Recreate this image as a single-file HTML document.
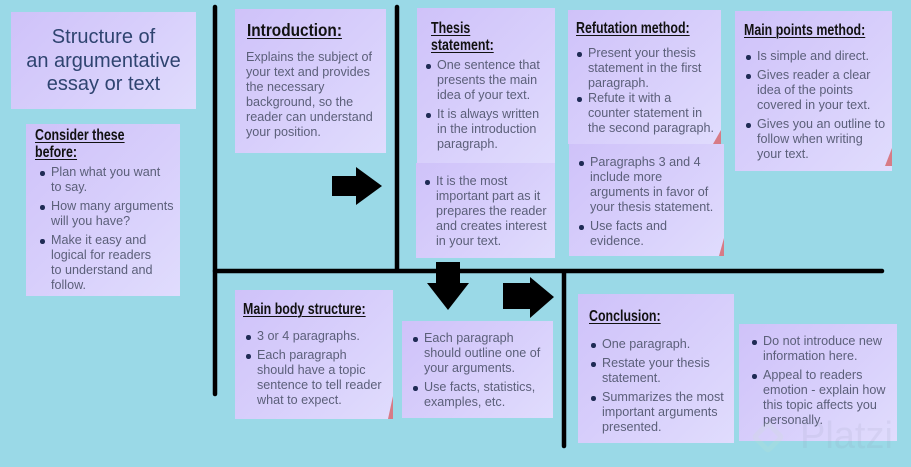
<!DOCTYPE html>
<html><head><meta charset="utf-8">
<style>
*{margin:0;padding:0;box-sizing:border-box}
html,body{width:911px;height:467px;overflow:hidden;background:#9ad9e7}
body{position:relative;font-family:"Liberation Sans",sans-serif}
.box{position:absolute;background:linear-gradient(135deg,#cfc2f9 0%,#d7cefb 50%,#e0dcfd 100%)}
.h{position:absolute;font-family:"Liberation Sans",sans-serif;font-weight:bold;color:#111;text-decoration:underline;text-decoration-thickness:1px;text-underline-offset:2px;white-space:nowrap;font-size:15.5px;line-height:17px;transform:scaleX(0.8);transform-origin:0 0}
.it{position:absolute;font-size:12.6px;line-height:15px;color:#5b5f79;white-space:nowrap}
.it.b::before{content:"";position:absolute;left:-11px;top:6px;width:4.5px;height:4.5px;border-radius:50%;background:#1f2b55}
.title{position:absolute;left:11px;top:14px;width:185px;height:97px;text-align:center;color:#2f4470;font-size:20px;line-height:23.5px;padding-top:12px}
.corner{position:absolute;width:0;height:0;border-style:solid}
</style></head><body>

<!-- boxes -->
<div class="box" style="left:11px;top:12px;width:185px;height:97px"></div>
<div class="title">Structure of<br>an argumentative<br>essay or text</div>

<div class="box" style="left:26px;top:124px;width:154px;height:172px"></div>
<div class="h" style="left:35px;top:127px">Consider these<br>before:</div>
<div class="it b" style="left:51px;top:165px">Plan what you want<br>to say.</div>
<div class="it b" style="left:51px;top:199px">How many arguments<br>will you have?</div>
<div class="it b" style="left:51px;top:233px">Make it easy and<br>logical for readers<br>to understand and<br>follow.</div>

<div class="box" style="left:235px;top:9px;width:151px;height:144px"></div>
<div class="h" style="left:247px;top:20px;font-size:17.5px;line-height:20px;transform:scaleX(0.88)">Introduction:</div>
<div class="it" style="left:246px;top:50px">Explains the subject of<br>your text and provides<br>the necessary<br>background, so the<br>reader can understand<br>your position.</div>

<div class="box" style="left:417px;top:8px;width:138px;height:155px"></div>
<div class="box" style="left:416px;top:163px;width:139px;height:95px"></div>
<div class="h" style="left:431px;top:20px">Thesis<br>statement:</div>
<div class="it b" style="left:437px;top:58px">One sentence that<br>presents the main<br>idea of your text.</div>
<div class="it b" style="left:437px;top:107px">It is always written<br>in the introduction<br>paragraph.</div>
<div class="it b" style="left:436px;top:174px">It is the most<br>important part as it<br>prepares the reader<br>and creates interest<br>in your text.</div>

<div class="box" style="left:568px;top:10px;width:153px;height:134px"></div>
<div class="corner" style="left:713px;top:130px;border-width:0 0 14px 8px;border-color:transparent transparent #d77b86 transparent"></div>
<div class="box" style="left:569px;top:144px;width:155px;height:112px"></div>
<div class="corner" style="left:719px;top:238px;border-width:0 0 18px 5px;border-color:transparent transparent #d77b86 transparent"></div>
<div class="h" style="left:576px;top:20px">Refutation method:</div>
<div class="it b" style="left:588px;top:46px">Present your thesis<br>statement in the first<br>paragraph.</div>
<div class="it b" style="left:588px;top:91px">Refute it with a<br>counter statement in<br>the second paragraph.</div>
<div class="it b" style="left:590px;top:155px">Paragraphs 3 and 4<br>include more<br>arguments in favor of<br>your thesis statement.</div>
<div class="it b" style="left:590px;top:219px">Use facts and<br>evidence.</div>

<div class="box" style="left:735px;top:11px;width:157px;height:160px"></div>
<div class="corner" style="left:885px;top:148px;border-width:0 0 18px 7px;border-color:transparent transparent #d77b86 transparent"></div>
<div class="h" style="left:744px;top:22px">Main points method:</div>
<div class="it b" style="left:757px;top:49px">Is simple and direct.</div>
<div class="it b" style="left:757px;top:68px">Gives reader a clear<br>idea of the points<br>covered in your text.</div>
<div class="it b" style="left:757px;top:117px">Gives you an outline to<br>follow when writing<br>your text.</div>

<div class="box" style="left:235px;top:290px;width:158px;height:129px"></div>
<div class="corner" style="left:388px;top:396px;border-width:0 0 23px 5px;border-color:transparent transparent #d77b86 transparent"></div>
<div class="h" style="left:243px;top:301px">Main body structure:</div>
<div class="it b" style="left:257px;top:329px">3 or 4 paragraphs.</div>
<div class="it b" style="left:257px;top:348px">Each paragraph<br>should have a topic<br>sentence to tell reader<br>what to expect.</div>

<div class="box" style="left:402px;top:321px;width:151px;height:97px"></div>
<div class="it b" style="left:424px;top:331px">Each paragraph<br>should outline one of<br>your arguments.</div>
<div class="it b" style="left:424px;top:380px">Use facts, statistics,<br>examples, etc.</div>

<div class="box" style="left:578px;top:294px;width:156px;height:149px"></div>
<div class="h" style="left:589px;top:308px">Conclusion:</div>
<div class="it b" style="left:602px;top:337px">One paragraph.</div>
<div class="it b" style="left:602px;top:356px">Restate your thesis<br>statement.</div>
<div class="it b" style="left:602px;top:390px">Summarizes the most<br>important arguments<br>presented.</div>

<div class="box" style="left:739px;top:324px;width:158px;height:117px"></div>
<div class="it b" style="left:763px;top:334px">Do not introduce new<br>information here.</div>
<div class="it b" style="left:763px;top:368px">Appeal to readers<br>emotion - explain how<br>this topic affects you<br>personally.</div>

<!-- watermark -->
<div style="position:absolute;left:800px;top:416px;font-size:38px;line-height:40px;color:rgba(140,150,170,0.12);white-space:nowrap">Platzi</div>
<div style="position:absolute;left:756px;top:425px;width:24px;height:24px;transform:rotate(45deg);border:5px solid rgba(200,230,200,0.16);border-radius:4px"></div>

<svg width="911" height="467" style="position:absolute;left:0;top:0" xmlns="http://www.w3.org/2000/svg">
<g stroke="#000" stroke-width="4.5" stroke-linecap="round">
<line x1="215" y1="7" x2="215" y2="394"/>
<line x1="397" y1="7" x2="397" y2="270"/>
<line x1="215" y1="271" x2="882" y2="271"/>
<line x1="564" y1="272" x2="564" y2="446"/>
</g>
<polygon points="332,176 356,176 356,167 382,186 356,205 356,196 332,196" fill="#000"/>
<polygon points="436,262 460,262 460,283 469,283 448,310 427,283 436,283" fill="#000"/>
<polygon points="503,283 530,283 530,277 554,297 530,318 530,309 503,309" fill="#000"/>
</svg>
</body></html>
